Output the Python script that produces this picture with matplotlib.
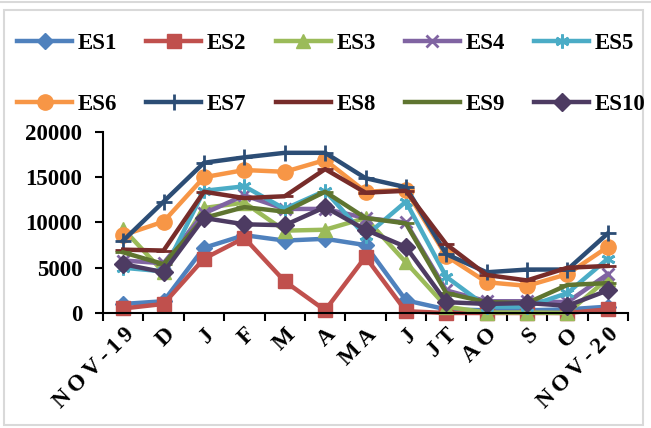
import matplotlib
matplotlib.use("Agg")
import matplotlib.pyplot as plt
from matplotlib.patches import Rectangle
from matplotlib.lines import Line2D
import numpy as np

# Monthly values per station, Nov 2019 - Nov 2020
categories = ['NOV-19', 'D', 'J', 'F', 'M', 'A', 'MA', 'J', 'JT', 'AO', 'S', 'O', 'NOV-20']

es1 = [1000, 1300, 7200, 8600, 8000, 8200, 7500, 1400, 400, 300, 300, 400, 700]
es2 = [500, 1000, 6000, 8300, 3500, 300, 6200, 200, 0, 0, 0, 0, 400]
es3 = [9300, 4500, 11600, 12200, 9100, 9200, 10500, 5600, 700, 50, 50, 0, 3800]
es4 = [5800, 5500, 11000, 13000, 11500, 11500, 10500, 10000, 2500, 1300, 1300, 1200, 4300]
es5 = [5000, 4600, 13500, 14000, 11500, 13500, 8500, 12300, 4000, 700, 700, 2200, 6000]
es6 = [8600, 10100, 15000, 15800, 15600, 16900, 13400, 13600, 6300, 3400, 3000, 4300, 7300]
es7 = [8000, 12300, 16600, 17200, 17700, 17700, 14900, 13900, 6500, 4500, 4800, 4800, 8800]
es8 = [7000, 6900, 13400, 12700, 12900, 15900, 13300, 13500, 7600, 4200, 3600, 5000, 5200]
es9 = [6700, 5400, 10500, 11700, 11200, 13400, 10500, 9900, 2200, 1200, 1100, 3100, 3300]
es10 = [5400, 4500, 10500, 9800, 9700, 11700, 9200, 7300, 1200, 1000, 1100, 800, 2500]

series_names = ['ES1', 'ES2', 'ES3', 'ES4', 'ES5', 'ES6', 'ES7', 'ES8', 'ES9', 'ES10']
series_values = [es1, es2, es3, es4, es5, es6, es7, es8, es9, es10]

y_ticks = [0, 5000, 10000, 15000, 20000]

colors = ['#4F81BD', '#C0504D', '#9BBB59', '#8064A2', '#4BACC6',
          '#F79646', '#2C4D75', '#772C2A', '#5F7530', '#4D3B62']
markers = ['D', 's', '^', 'x', (6, 2, 0), 'o', '+', '_', '_', 'D']
msizes = [8, 10, 10, 9, 10, 11, 12, 12, 12, 9]

FONT = 'Liberation Serif'
W, H = 651, 428
fig = plt.figure(figsize=(W / 100, H / 100), dpi=100)

# frame lines around the chart
fig.add_artist(Line2D([0, 1], [1 - 2 / H, 1 - 2 / H], transform=fig.transFigure,
                      color='#D9D9D9', lw=1.5))
fig.add_artist(Rectangle((4 / W, 3 / H), 639 / W, 415 / H, transform=fig.transFigure,
                         fill=False, edgecolor='#D9D9D9', lw=1.5))

ax_left, ax_right = 103, 628
ax_bottom, ax_top = 313, 132
ax = fig.add_axes([ax_left / W, 1 - ax_bottom / H,
                   (ax_right - ax_left) / W, (ax_bottom - ax_top) / H])

x = np.arange(len(categories))
handles = []
for name, vals, c, m, ms in zip(series_names, series_values, colors, markers, msizes):
    mew = 2.0 if m in ('x', '+', '_') or isinstance(m, tuple) else 1.0
    h, = ax.plot(x, vals, color=c, lw=3.2, marker=m, markersize=ms,
                 markerfacecolor=c, markeredgecolor=c, markeredgewidth=mew,
                 label=name, clip_on=False, solid_joinstyle='round')
    handles.append(h)

ax.set_xlim(-0.5, len(categories) - 0.5)
ax.set_ylim(0, 20000)

for s in ('top', 'right'):
    ax.spines[s].set_visible(False)
for s in ('left', 'bottom'):
    ax.spines[s].set_linewidth(1.5)
    ax.spines[s].set_color('black')

ax.set_yticks(y_ticks)
ax.set_yticklabels([str(v) for v in y_ticks], fontfamily=FONT, fontweight='bold', fontsize=16.5)
ax.tick_params(axis='y', length=6, width=1.5, pad=9, direction='out')

# category labels are drawn letter-spaced, as the rotated labels of the original workbook
ax.set_xticks(np.arange(-0.5, len(categories)), labels=[''] * (len(categories) + 1))
ax.set_xticks(x, minor=True)
ax.set_xticklabels(['\u2009'.join(c) for c in categories], minor=True,
                   fontfamily=[FONT, 'DejaVu Serif'],
                   fontweight='bold', fontsize=16.5, rotation=45, ha='right', va='top',
                   rotation_mode='anchor')
ax.tick_params(axis='x', which='major', length=6, width=1.5, direction='out')
ax.tick_params(axis='x', which='minor', length=0, pad=8)

# legend filled row by row (matplotlib fills columns first)
ncol = 5
nrow = 2
order = [r * ncol + c for c in range(ncol) for r in range(nrow)]
leg = fig.legend(handles=[handles[i] for i in order], loc='upper left',
                 bbox_to_anchor=(17 / W, 1 - 33 / H),
                 ncol=ncol, frameon=False, borderpad=0, borderaxespad=0,
                 handlelength=2.4, handletextpad=0.25, columnspacing=1.27,
                 labelspacing=1.73,
                 prop={'family': FONT, 'weight': 'bold', 'size': 16.5})

fig.savefig('out.png', dpi=100)
